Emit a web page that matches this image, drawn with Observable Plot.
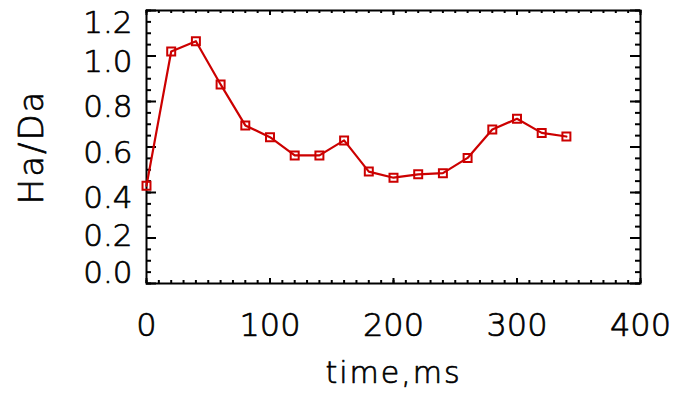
<!DOCTYPE html>
<html>
<head>
<meta charset="utf-8">
<script src="https://cdn.jsdelivr.net/npm/d3@7"></script>
<script src="https://cdn.jsdelivr.net/npm/@observablehq/plot@0.6"></script>
<style>
  html, body { margin: 0; padding: 0; background: #fff; }
</style>
</head>
<body>
<div id="chart"></div>
<script>
const times = [0, 20, 40, 60, 80, 100, 120, 140, 160, 180, 200, 220, 240, 260, 280, 300, 320, 340];
const ratio = [0.43, 1.02, 1.065, 0.875, 0.695, 0.643, 0.563, 0.563, 0.629, 0.492, 0.465, 0.480, 0.485, 0.552, 0.677, 0.724, 0.662, 0.646];

const xMajor = [0, 100, 200, 300, 400];
const xMinor = d3.range(0, 401, 10);
const yMajor = [0, 0.2, 0.4, 0.6, 0.8, 1.0, 1.2];
const yMinor = d3.range(0, 1.2001, 0.05);
const xTitle = "time,ms";
const yTitle = "Ha/Da";

const data = times.map((t, i) => ({t, v: ratio[i]}));

const W = 677, H = 401, mL = 146, mR = 37, mT = 10, mB = 118;
const pw = W - mL - mR, ph = H - mT - mB;
const red = "#cc0000";
const font = "'DejaVu Sans', sans-serif";

const txt = {fill: "black", fontWeight: 200, stroke: "black", strokeWidth: 0.7};
const labelOpts = {frameAnchor: "left", text: d => d.toFixed(1), textAnchor: "end", dx: -14, ...txt};

const chart = Plot.plot({
  width: W, height: H,
  marginLeft: mL, marginRight: mR, marginTop: mT, marginBottom: mB,
  x: {domain: [0, 400], axis: null},
  y: {domain: [0, 1.2], axis: null},
  style: {fontFamily: font, fontSize: "31px", color: "black", background: "white"},
  marks: [
    // y ticks (left & right, pointing inward)
    Plot.tickY(yMajor, {y: d => d, insetRight: pw - 10, stroke: "black", strokeWidth: 2}),
    Plot.tickY(yMinor, {y: d => d, insetRight: pw - 5, stroke: "black", strokeWidth: 2}),
    Plot.tickY(yMajor, {y: d => d, insetLeft: pw - 10, stroke: "black", strokeWidth: 2}),
    Plot.tickY(yMinor, {y: d => d, insetLeft: pw - 5, stroke: "black", strokeWidth: 2}),
    // x ticks (bottom & top, pointing inward)
    Plot.tickX(xMajor, {x: d => d, insetTop: ph - 5, stroke: "black", strokeWidth: 2}),
    Plot.tickX(xMinor, {x: d => d, insetTop: ph - 3, stroke: "black", strokeWidth: 2}),
    Plot.tickX(xMajor, {x: d => d, insetBottom: ph - 5, stroke: "black", strokeWidth: 2}),
    Plot.tickX(xMinor, {x: d => d, insetBottom: ph - 3, stroke: "black", strokeWidth: 2}),
    Plot.frame({stroke: "black", strokeWidth: 2}),
    // data
    Plot.line(data, {x: "t", y: "v", stroke: red, strokeWidth: 2.2}),
    Plot.dot(data, {x: "t", y: "v", symbol: "square", r: 4.5, stroke: red, strokeWidth: 2, fill: "none"}),
    // x tick labels
    Plot.text(xMajor, {x: d => d, frameAnchor: "bottom", text: d => String(d), lineAnchor: "top", dy: 30, fontSize: 32, ...txt}),
    // y tick labels
    Plot.text(yMajor.filter(d => d > 0.2 && d < 1.2), {y: d => d, ...labelOpts, dy: 6}),
    Plot.text(yMajor.filter(d => d > 0.1 && d < 0.3), {y: d => d, ...labelOpts, dy: -2}),
    Plot.text(yMajor.filter(d => d >= 1.2), {y: d => d, ...labelOpts, dy: 13}),
    Plot.text(yMajor.filter(d => d === 0), {y: d => d, ...labelOpts, dy: -10}),
    // titles
    Plot.text([xTitle], {frameAnchor: "bottom", text: d => d, textAnchor: "middle", lineAnchor: "top", dy: 78, fontSize: 30, ...txt}),
    Plot.text([yTitle], {frameAnchor: "left", text: d => d, textAnchor: "middle", rotate: -90, dx: -114, fontSize: 34, ...txt})
  ]
});
document.getElementById("chart").appendChild(chart);
// spacing of the titles as in the reference
d3.select(chart).selectAll("text").filter(function() { return this.textContent === xTitle; })
  .style("letter-spacing", "2px");
d3.select(chart).selectAll("text").filter(function() { return this.textContent === yTitle; })
  .style("letter-spacing", "2px");
</script>
</body>
</html>
